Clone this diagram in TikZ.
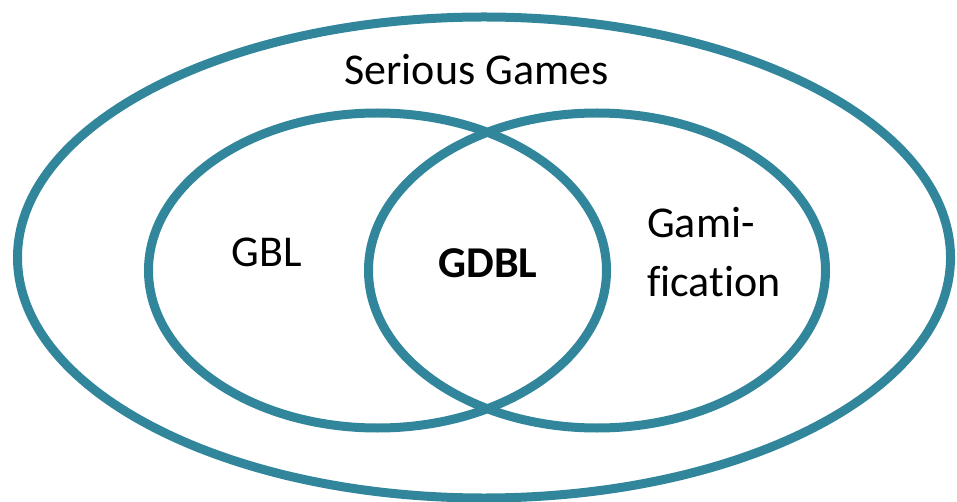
\documentclass[tikz,border=0pt]{standalone}
\usepackage{fontspec}
\setmainfont[Ligatures=CommonOff]{Carlito}
\definecolor{teal1}{HTML}{31869B}
\begin{document}
\begin{tikzpicture}[x=1pt,y=-1pt,
  ring/.style={draw=teal1,line width=9pt},
  lbl/.style={inner sep=0pt,font=\fontsize{44}{53}\selectfont}]
\useasboundingbox (0,0) rectangle (957,502);
\draw[ring] (484,257.5) ellipse [x radius=466.5, y radius=240.5];
\draw[ring] (377.5,270.5) ellipse [x radius=229, y radius=157.5];
\draw[ring] (597,270.5) ellipse [x radius=228.5, y radius=157.5];
\node[lbl,anchor=base] (sg) at (476.5,85) {Serious Games};
\node[lbl,anchor=base] (gbl) at (267,267) {GBL};
\node[lbl,anchor=base,font=\fontsize{44}{53}\selectfont\bfseries] (gdbl) at (488,277) {GDBL};
\node[lbl,anchor=base west] (gam1) at (647,238) {Gami-};
\node[lbl,anchor=base west] (gam2) at (647,296) {f\kern0pt ication};
\end{tikzpicture}
\end{document}
